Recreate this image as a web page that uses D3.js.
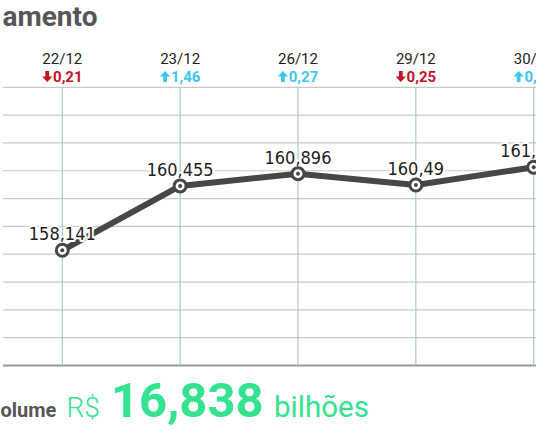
<!DOCTYPE html>
<html><head><meta charset="utf-8">
<script src="https://cdn.jsdelivr.net/npm/d3@7"></script>
<style>html,body{margin:0;padding:0;background:#fff;overflow:hidden}</style>
</head><body>
<svg id="c" width="536" height="430"></svg>
<script>
const dates = ["22/12", "23/12", "26/12", "29/12", "30/12"];
const values = [158.141, 160.455, 160.896, 160.49, 161.125];
const valueLabels = ["158,141", "160,455", "160,896", "160,49", "161,125"];
const changes = ["0,21", "1,46", "0,27", "0,25", "0,40"];
const directions = ["down", "up", "up", "down", "up"];
const yTicks = [154, 155, 156, 157, 158, 159, 160, 161, 162, 163, 164];
const titleText = "amento";
const volumeLabel = "olume";
const volumeCurrency = "R$";
const volumeValue = "16,838";
const volumeUnit = "bilhões";

const svg = d3.select("#c");
const x = d3.scalePoint().domain(dates).range([62.3, 533.7]);
const y = d3.scaleLinear().domain([154, 164]).range([365.5, 87.3]);
const labelFont = "'Liberation Sans Narrow','DejaVu Sans Condensed',sans-serif";
const upColor = "#3ec8ef", downColor = "#c4122b";

// title
svg.append("text").attr("x", 2.5).attr("y", 26)
  .attr("font-family", "Roboto, sans-serif").attr("font-weight", 700)
  .attr("font-size", 28).attr("fill", "#565656").text(titleText);

// horizontal grid
svg.append("g").selectAll("line").data(yTicks).join("line")
  .attr("x1", 3).attr("x2", 536)
  .attr("y1", d => y(d)).attr("y2", d => y(d))
  .attr("stroke", d => d === 154 ? "#9a9a9a" : "#c9c9c9")
  .attr("stroke-width", d => d === 154 ? 2 : 1.2);

// vertical grid
svg.append("g").selectAll("line").data(dates).join("line")
  .attr("x1", d => x(d)).attr("x2", d => x(d))
  .attr("y1", y(164)).attr("y2", y(154))
  .attr("stroke", "#a8c3c3").attr("stroke-width", 1.1);

// date labels
svg.append("g").selectAll("text").data(dates).join("text")
  .attr("x", d => x(d)).attr("y", 64)
  .attr("text-anchor", "middle")
  .attr("font-family", "Roboto, sans-serif").attr("font-size", 15)
  .attr("fill", "#222").text(d => d);

// change labels with heavy arrows
const arrowPath = "M-1.9,-5.5 L1.9,-5.5 L1.9,0 L5.2,0 L0,5.5 L-5.2,0 L-1.9,0 Z";
const cg = svg.append("g").selectAll("g").data(dates).join("g");
cg.each(function (d, i) {
  const g = d3.select(this);
  const col = directions[i] === "up" ? upColor : downColor;
  const t = g.append("text").attr("y", 82)
    .attr("font-family", "Roboto, sans-serif").attr("font-weight", 700)
    .attr("font-size", 15).attr("fill", col).text(changes[i]);
  const w = t.node().getComputedTextLength();
  const total = 11 + w;
  const left = x(d) - total / 2;
  t.attr("x", left + 11);
  g.append("path").attr("d", arrowPath)
    .attr("transform", `translate(${left + 5.2},76.5) rotate(${directions[i] === "up" ? 180 : 0})`)
    .attr("fill", col);
});

// line
const line = d3.line().x((d, i) => x(dates[i])).y(d => y(d));
svg.append("path").datum(values).attr("d", line)
  .attr("fill", "none").attr("stroke", "#474747").attr("stroke-width", 6)
  .attr("stroke-linejoin", "round");

// value labels with halo
svg.append("g").selectAll("text").data(values).join("text")
  .attr("x", (d, i) => x(dates[i])).attr("y", d => y(d) - 10)
  .attr("text-anchor", "middle")
  .attr("font-family", labelFont).attr("font-size", 18)
  .attr("fill", "#1e1e1e").attr("stroke", "#fff").attr("stroke-width", 4)
  .attr("paint-order", "stroke").attr("stroke-linejoin", "round")
  .text((d, i) => valueLabels[i]);

// markers
const m = svg.append("g").selectAll("g").data(values).join("g")
  .attr("transform", (d, i) => `translate(${x(dates[i])},${y(d)})`);
m.append("circle").attr("r", 6).attr("fill", "#fff")
  .attr("stroke", "#474747").attr("stroke-width", 3);
m.append("circle").attr("r", 2).attr("fill", "#474747");

// volume line
const v = svg.append("text").attr("x", 0.5).attr("y", 416.5)
  .attr("font-family", "Roboto, sans-serif");
v.append("tspan").attr("font-weight", 700).attr("font-size", 20)
  .attr("fill", "#565656").text(volumeLabel);
v.append("tspan").attr("x", 66.5).attr("font-weight", 300).attr("font-size", 28)
  .attr("fill", "#33e390").text(volumeCurrency);
v.append("tspan").attr("x", 111).attr("font-weight", 700).attr("font-size", 49)
  .attr("fill", "#33e390").text(volumeValue);
v.append("tspan").attr("x", 274).attr("font-weight", 400).attr("font-size", 29.5)
  .attr("fill", "#33e390").text(volumeUnit);
</script>
</body></html>
